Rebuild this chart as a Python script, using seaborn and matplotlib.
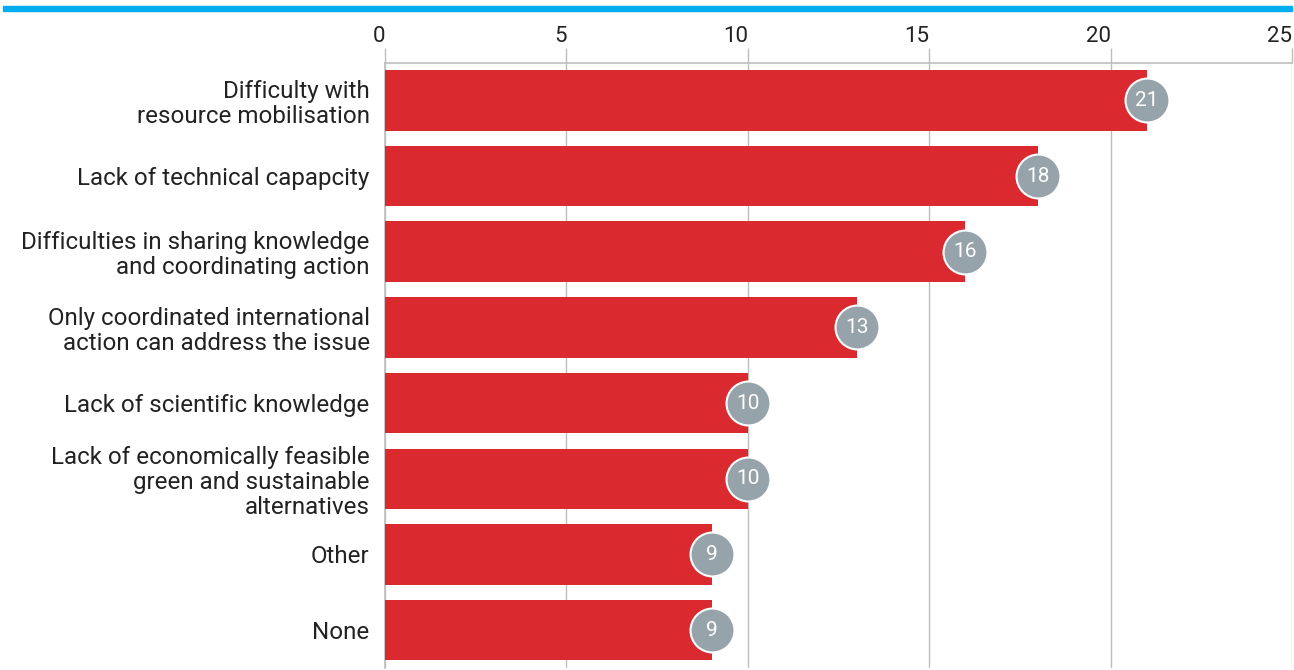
import matplotlib
matplotlib.use("Agg")
import matplotlib.pyplot as plt
from matplotlib.patches import Rectangle
import seaborn as sns
import pandas as pd

categories = [
    "Difficulty with\nresource mobilisation",
    "Lack of technical capapcity",
    "Difficulties in sharing knowledge\nand coordinating action",
    "Only coordinated international\naction can address the issue",
    "Lack of scientific knowledge",
    "Lack of economically feasible\ngreen and sustainable\nalternatives",
    "Other",
    "None",
]
values = [21, 18, 16, 13, 10, 10, 9, 9]
x_ticks = [0, 5, 10, 15, 20, 25]

BAR_RED = "#DA2A2F"
BADGE_GREY = "#97A3AA"
GRID_GREY = "#BDBDBD"
BLUE = "#00AEEF"

sns.set_theme(style="white")
plt.rcParams["font.family"] = ["Roboto", "DejaVu Sans"]

df = pd.DataFrame({"category": categories, "value": values})

W, H = 1294, 670
fig = plt.figure(figsize=(W / 100, H / 100), dpi=100)
left_px, right_px, top_px, bottom_px = 385, 1292, 62.5, 668
ax = fig.add_axes([left_px / W, 1 - bottom_px / H,
                   (right_px - left_px) / W, (bottom_px - top_px) / H])

sns.barplot(data=df, x="value", y="category", color=BAR_RED, width=0.8,
            saturation=1, ax=ax, zorder=3, edgecolor="none", linewidth=0)

ax.set_xlim(0, 25)
ax.set_ylim(7.5, -0.5)
ax.set_xlabel("")
ax.set_ylabel("")

# value axis on top; tick labels sit just left of their grid line
ax.xaxis.tick_top()
ax.set_xticks(x_ticks)
ax.set_xticklabels([str(t) for t in x_ticks], fontsize=16, color="#222222",
                   ha="right")
ax.tick_params(axis="x", which="major", direction="out", length=10.5, width=1,
               color=GRID_GREY, pad=1)
ax.grid(axis="x", color=GRID_GREY, linewidth=1, zorder=0)
ax.set_axisbelow(True)

# category axis: labels centred on bars, ticks at bar boundaries
ax.set_yticks(range(len(categories)))
ax.set_yticklabels(categories, fontsize=17.4, color="#222222", ha="right",
                   multialignment="right", linespacing=1.12)
ax.tick_params(axis="y", which="major", length=0, pad=11)
ax.set_yticks([i - 0.5 for i in range(len(categories) + 1)], minor=True)
ax.tick_params(axis="y", which="minor", direction="out", length=11, width=1,
               color=GRID_GREY)

for side in ["right", "bottom"]:
    ax.spines[side].set_visible(False)
for side in ["left", "top"]:
    ax.spines[side].set_color(GRID_GREY)
    ax.spines[side].set_linewidth(1.2)

# value badges at the end of each bar
for i, v in enumerate(values):
    ax.scatter(v, i, s=1000, color=BADGE_GREY, edgecolor="white",
               linewidth=1.5, zorder=5, clip_on=False)
    ax.text(v, i, str(v), ha="center", va="center", fontsize=15,
            color="white", zorder=6)

# header rule
fig.patches.append(Rectangle((3 / W, 1 - 11 / H), (1292 - 3) / W, 5 / H,
                             transform=fig.transFigure, color=BLUE, zorder=10))

fig.savefig("out.png", dpi=100)
